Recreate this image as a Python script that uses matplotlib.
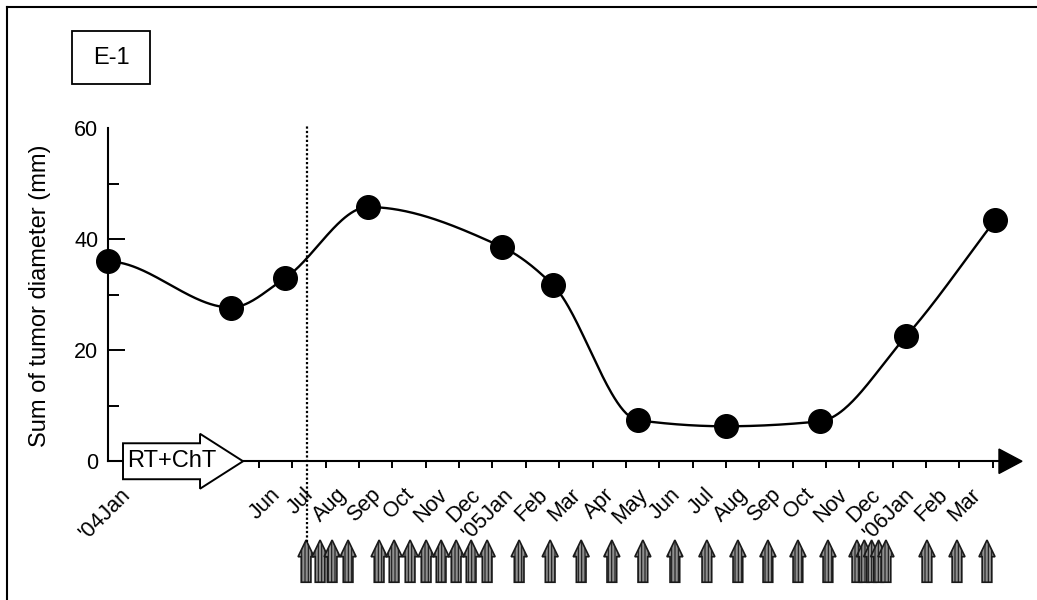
import numpy as np
import matplotlib
matplotlib.use("Agg")
import matplotlib.pyplot as plt
from matplotlib.patches import Polygon, FancyArrow, Rectangle
from matplotlib.lines import Line2D

plt.rcParams['font.family'] = ['Liberation Sans', 'DejaVu Sans']
plt.rcParams['hatch.linewidth'] = 0.8

# timeline position of each measurement (one unit = one month, 0 = Jun '04;
# the Jan-May '04 chemoradiation period is drawn compressed)
visit_pos = [-4.53, -0.84, 0.78, 3.27, 7.29, 8.82, 11.36, 14.0, 16.82, 19.4, 22.07]
tumor_sum = [36.0, 27.7, 33.0, 45.8, 38.6, 31.7, 7.4, 6.3, 7.2, 22.5, 43.4]

# chemotherapy courses (arrows under the time axis)
course_pos = [1.41, 1.83, 2.19, 2.67,
              3.60, 4.05, 4.53, 5.01, 5.46, 5.91, 6.36, 6.84,
              7.80, 8.73, 9.66, 10.58, 11.51, 12.47, 13.43, 14.36, 15.26,
              16.16, 17.06, 17.93, 18.15, 18.37, 18.58, 18.80,
              20.03, 20.93, 21.83]

month_labels = ['Jun', 'Jul', 'Aug', 'Sep', 'Oct', 'Nov', 'Dec', "'05Jan",
                'Feb', 'Mar', 'Apr', 'May', 'Jun', 'Jul', 'Aug', 'Sep', 'Oct',
                'Nov', 'Dec', "'06Jan", 'Feb', 'Mar']
start_label = "'04Jan"
n_month_ticks = 23
rt_end = 1.44   # end of radiotherapy (dotted line)


def pchip(x, y, xs):
    # monotone cubic (Fritsch-Carlson) curve through the measurements
    x = np.asarray(x, float)
    y = np.asarray(y, float)
    h = np.diff(x)
    d = np.diff(y) / h
    m = np.zeros_like(y)
    for k in range(1, len(x) - 1):
        if d[k - 1] * d[k] > 0:
            w1 = 2 * h[k] + h[k - 1]
            w2 = h[k] + 2 * h[k - 1]
            m[k] = (w1 + w2) / (w1 / d[k - 1] + w2 / d[k])
    m[0] = d[0] if d[0] * d[1] > 0 else 0
    m[-1] = d[-1]
    ys = np.empty_like(xs)
    for i, xv in enumerate(xs):
        k = min(np.searchsorted(x, xv, side='right') - 1, len(h) - 1)
        t = (xv - x[k]) / h[k]
        h00 = 2 * t**3 - 3 * t**2 + 1
        h10 = t**3 - 2 * t**2 + t
        h01 = -2 * t**3 + 3 * t**2
        h11 = t**3 - t**2
        ys[i] = h00 * y[k] + h10 * h[k] * m[k] + h01 * y[k + 1] + h11 * h[k] * m[k + 1]
    return ys


fig = plt.figure(figsize=(10.37, 6), dpi=100)
ax = fig.add_axes([108 / 1037, 0, (1026 - 108) / 1037, 87 * 5.55 / 600])
ax.set_xlim(-4.53, 23.0)
ax.set_ylim(-25, 62)
ax.patch.set_visible(False)

# axes: y axis 0-60, time axis along y=0 ending in an arrow head
for s in ['top', 'right']:
    ax.spines[s].set_visible(False)
ax.spines['left'].set_bounds(0, 60)
ax.spines['left'].set_linewidth(1.5)
ax.spines['bottom'].set_position(('data', 0))
ax.spines['bottom'].set_bounds(-4.53, 22.3)
ax.spines['bottom'].set_linewidth(1.5)
ax.add_patch(Polygon([(22.19, 2.2), (22.88, 0), (22.19, -2.2)], closed=True,
                     fc='black', ec='black', clip_on=False))

ax.set_yticks([0, 20, 40, 60])
ax.set_yticks([10, 30, 50], minor=True)
ax.tick_params(axis='y', which='major', direction='in', length=12, width=1.4,
               labelsize=15.5, pad=7)
ax.tick_params(axis='y', which='minor', direction='in', length=8, width=1.4)
ax.yaxis.get_major_ticks()[-1].tick1line.set_visible(False)

ax.set_xticks(np.arange(n_month_ticks))
ax.set_xticklabels([])
label_pos = [-3.95] + list(np.arange(len(month_labels)) + 0.55)
ax.set_xticks(label_pos, labels=[start_label] + month_labels, minor=True)
ax.tick_params(axis='x', which='major', direction='out', length=5, width=1.4)
ax.tick_params(axis='x', which='minor', length=0, pad=22)
for lab in ax.get_xticklabels(minor=True):
    lab.set_fontsize(15.5)
    lab.set_rotation(45)
    lab.set_ha('right')
    lab.set_va('center')
    lab.set_rotation_mode('anchor')

# tumour size curve
xs = np.linspace(visit_pos[0], visit_pos[-1], 600)
ax.plot(xs, pchip(visit_pos, tumor_sum, xs), color='black', lw=1.7, zorder=3)
ax.plot(visit_pos, tumor_sum, 'o', color='black', ms=17, zorder=4, clip_on=False)

# end of radiotherapy
ax.plot([rt_end, rt_end], [-14.6, 60.5], color='black', lw=1.6,
        ls=(0, (1.0, 1.0)), clip_on=False, zorder=2)

# RT + ChT block arrow
ax.add_patch(Polygon([(-4.08, -3.24), (-4.08, 3.24), (-1.77, 3.24), (-1.77, 4.95),
                      (-0.48, 0), (-1.77, -4.95), (-1.77, -3.24)], closed=True,
                     fc='white', ec='black', lw=1.4, zorder=5, clip_on=False))
ax.text(-2.62, 0, 'RT+ChT', fontsize=17, ha='center', va='center', zorder=6)

# chemotherapy course arrows
for xp in course_pos:
    ax.add_patch(FancyArrow(xp, -21.8, 0, 7.6, width=0.29, head_width=0.48,
                            head_length=3.0, length_includes_head=True,
                            fc='#8f8f8f', ec='#1a1a1a', lw=1.2, hatch='|||||',
                            clip_on=False))

fig.text(40 / 1037, 1 - 296 / 600, 'Sum of tumor diameter (mm)', rotation=90,
         ha='center', va='center', fontsize=17)

# panel tag
fig.add_artist(Rectangle((72 / 1037, 1 - 84 / 600), 78 / 1037, 53 / 600,
                         transform=fig.transFigure, fill=False, ec='black', lw=1.3))
fig.text(111 / 1037, 1 - 58 / 600, 'E-1', ha='center', va='center', fontsize=17)

# frame lines at the top and left
fig.add_artist(Line2D([7 / 1037, 1], [1 - 7 / 600, 1 - 7 / 600],
                      transform=fig.transFigure, color='black', lw=1.5))
fig.add_artist(Line2D([7 / 1037, 7 / 1037], [0, 1 - 7 / 600],
                      transform=fig.transFigure, color='black', lw=1.5))

fig.savefig('out.png', dpi=100)
